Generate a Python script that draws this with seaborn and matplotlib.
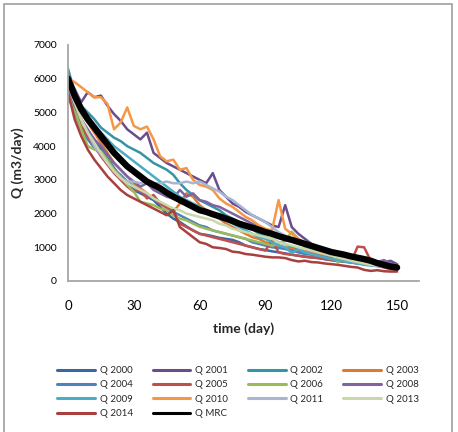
import matplotlib
matplotlib.use("Agg")
import matplotlib.pyplot as plt
import matplotlib.patches as mpatches
from matplotlib.lines import Line2D
import numpy as np
import pandas as pd
import seaborn as sns

# ---------------- data ----------------
days = list(range(0, 151, 3))

q2000 = [5700, 5200, 4800, 4450, 4200, 3900, 3650, 3350, 3100, 2900, 2700, 2600, 2500, 2400, 2200, 2000, 1850,
         1750, 1620, 1500, 1400, 1370, 1330, 1280, 1250, 1220, 1150, 1050, 1000, 950, 920, 880, 850, 820, 780,
         750, 720, 700, 680, 650, 620, 600, 570, 550, 520, 500, 480, 450, 430, 410, 390]
q2001 = [6100, 5700, 5300, 5600, 5450, 5500, 5200, 4950, 4750, 4500, 4350, 4200, 4400, 3800, 3650, 3500, 3400,
         3300, 3200, 3100, 3000, 2900, 3200, 2700, 2500, 2300, 2200, 2050, 1950, 1850, 1750, 1650, 1600, 2250,
         1600, 1400, 1250, 1100, 1000, 950, 900, 850, 800, 750, 700, 650, 620, 580, 550, 600, 500]
q2002 = [6300, 5600, 5200, 5000, 4800, 4550, 4400, 4250, 4150, 4000, 3900, 3800, 3650, 3500, 3400, 3300, 3150,
         2900, 2700, 2550, 2400, 2300, 2200, 2100, 1950, 1850, 1750, 1650, 1550, 1400, 1300, 1250, 1150, 1100,
         1000, 950, 900, 850, 800, 750, 700, 680, 650, 600, 560, 520, 500, 470, 450, 420, 400]
q2003 = [5900, 5400, 5000, 4700, 4400, 4100, 3800, 3500, 3300, 3100, 2900, 2750, 2600, 2450, 2300, 2150, 2050,
         2300, 2600, 2500, 2250, 2100, 1950, 1850, 1700, 1600, 1500, 1400, 1300, 1250, 1150, 1100, 1050, 1000,
         950, 900, 880, 850, 800, 780, 750, 700, 660, 620, 580, 550, 500, 480, 450, 420, 400]
q2004 = [5500, 5000, 4500, 4200, 3950, 3750, 3500, 3300, 3150, 2950, 2800, 2650, 2550, 2450, 2300, 2200, 2050,
         1950, 1850, 1750, 1650, 1600, 1500, 1450, 1400, 1350, 1300, 1250, 1150, 1100, 1050, 1000, 980, 950,
         900, 850, 800, 780, 750, 700, 650, 600, 580, 560, 540, 500, 480, 460, 440, 420, 400]
q2005 = [5800, 5100, 4600, 4300, 4000, 3700, 3450, 3200, 3000, 2800, 2650, 2700, 2450, 2550, 2300, 2200, 2100,
         1700, 1600, 1500, 1400, 1350, 1300, 1250, 1200, 1150, 1100, 1050, 1000, 950, 900, 1220, 850, 800,
         780, 750, 720, 700, 680, 650, 620, 600, 580, 560, 1020, 1000, 600, 450, 400, 350, 320]
q2006 = [5700, 5100, 4500, 4000, 3900, 3850, 3600, 3300, 3100, 2850, 2650, 2350, 2300, 2250, 2150, 2100, 1950,
         1850, 1800, 1700, 1610, 1550, 1500, 1450, 1400, 1350, 1300, 1250, 1200, 1150, 1100, 1050, 1100, 1200,
         1460, 1250, 1000, 950, 900, 880, 850, 550, 700, 650, 600, 550, 500, 480, 450, 420, 400]
q2008 = [5800, 5200, 4800, 4500, 4200, 4000, 3750, 3500, 3300, 3100, 2950, 2800, 2900, 2700, 2600, 2500, 2450,
         2700, 2500, 2600, 2400, 2350, 2250, 2200, 2100, 2000, 1900, 1800, 1700, 1600, 1500, 1400, 1350, 1300,
         1200, 1150, 1050, 1000, 950, 900, 850, 820, 800, 750, 700, 650, 600, 560, 620, 520, 480]
q2009 = [6000, 5400, 5000, 4800, 4600, 4400, 4200, 4000, 3850, 3700, 3550, 3400, 3250, 3100, 2950, 2800, 2650,
         2500, 2400, 2300, 2200, 2050, 1950, 1850, 1800, 1700, 1600, 1500, 1400, 1300, 1250, 1150, 1050, 1000,
         830, 950, 850, 800, 750, 700, 650, 620, 580, 550, 520, 480, 460, 440, 420, 400, 380]
q2010 = [6000, 5900, 5750, 5600, 5450, 5450, 5250, 4500, 4700, 5150, 4600, 4500, 4580, 4200, 3700, 3550, 3600,
         3300, 3350, 3000, 2850, 2800, 2700, 2450, 2300, 2200, 2050, 1900, 1800, 1650, 1550, 1500, 2400, 1550,
         1400, 1250, 1150, 1050, 950, 900, 800, 780, 700, 650, 600, 560, 520, 480, 450, 420, 400]
q2011 = [5800, 5300, 4800, 4400, 4000, 3750, 3500, 3250, 3050, 2950, 2950, 2900, 2950, 2900, 2900, 2950, 2900,
         2900, 2950, 2900, 2950, 2850, 2750, 2650, 2500, 2400, 2250, 2100, 1950, 1850, 1750, 1600, 1450, 1350,
         1250, 1150, 1050, 950, 900, 880, 850, 820, 780, 720, 680, 620, 560, 520, 480, 450, 420]
q2013 = [5900, 5300, 4800, 4400, 4100, 3800, 3500, 3250, 3050, 2900, 2800, 2700, 2600, 2450, 2350, 2250, 2150,
         2100, 2000, 1950, 1900, 1850, 1800, 1700, 1650, 1550, 1500, 1450, 1400, 1350, 1300, 1250, 1150, 1100,
         1050, 1000, 950, 900, 850, 800, 750, 700, 650, 600, 560, 520, 480, 450, 430, 410, 390]
q2014 = [5600, 4800, 4300, 3900, 3600, 3350, 3100, 2900, 2700, 2550, 2450, 2350, 2250, 2150, 2050, 1950, 2100,
         1600, 1450, 1300, 1150, 1100, 1000, 980, 950, 870, 850, 800, 780, 750, 720, 700, 700, 680, 620, 580,
         600, 560, 550, 520, 500, 480, 450, 420, 400, 330, 300, 320, 290, 280, 280]
qmrc = [6000, 5500, 5100, 4800, 4550, 4300, 4050, 3800, 3600, 3400, 3250, 3100, 2950, 2850, 2750, 2620, 2500,
        2400, 2300, 2200, 2100, 2050, 1980, 1920, 1850, 1780, 1700, 1640, 1580, 1520, 1450, 1400, 1330, 1270,
        1220, 1160, 1100, 1040, 980, 920, 860, 820, 780, 730, 690, 650, 600, 530, 480, 430, 400]

series_names = ["Q 2000", "Q 2001", "Q 2002", "Q 2003", "Q 2004", "Q 2005", "Q 2006",
                "Q 2008", "Q 2009", "Q 2010", "Q 2011", "Q 2013", "Q 2014"]
series_values = [q2000, q2001, q2002, q2003, q2004, q2005, q2006,
                 q2008, q2009, q2010, q2011, q2013, q2014]
colors = ["#3C66A0", "#6A4D8E", "#3594A8", "#DB7A32", "#4F81BD", "#C0504D", "#9BBB59",
          "#8064A2", "#4BACC6", "#F79646", "#A8B6D4", "#C9D7AB", "#A8403D"]

x_ticks = [0, 30, 60, 90, 120, 150]
y_ticks = [0, 1000, 2000, 3000, 4000, 5000, 6000, 7000]

# ---------------- figure ----------------
sns.set_theme(style="white")
plt.rcParams['font.family'] = ['Lato', 'DejaVu Sans']

fig = plt.figure(figsize=(4.58, 4.32), dpi=100)
ax = fig.add_axes([68 / 458, 1 - 281 / 432, (419 - 68) / 458, (281 - 45) / 432])

rows = []
for name, vals in zip(series_names, series_values):
    for d, v in zip(days, vals):
        rows.append({"day": d, "Q": v, "series": name})
df = pd.DataFrame(rows)
df_mrc = pd.DataFrame({"day": days, "Q": qmrc})

sns.lineplot(data=df, x="day", y="Q", hue="series", hue_order=series_names,
             palette=dict(zip(series_names, colors)), linewidth=1.8, ax=ax, legend=False)
sns.lineplot(data=df_mrc, x="day", y="Q", color="black", linewidth=4.6, ax=ax, legend=False)

ax.set_xlim(0, 160)
ax.set_ylim(0, 7000)
ax.set_xticks(x_ticks)
ax.set_yticks(y_ticks)
ax.set_xticklabels([str(t) for t in x_ticks], fontsize=9.5)
ax.set_yticklabels([str(t) for t in y_ticks], fontsize=7.5)
ax.tick_params(axis="x", length=0, pad=14, colors="black")
ax.tick_params(axis="y", length=0, pad=8, colors="black")
for s in ["top", "right"]:
    ax.spines[s].set_visible(False)
for s in ["left", "bottom"]:
    ax.spines[s].set_color("#A6A6A6")
    ax.spines[s].set_linewidth(1.3)
ax.grid(False)

ax.set_xlabel("")
ax.set_ylabel("")
fig.text(243.5 / 458, 1 - 329 / 432, "time (day)", ha="center", va="center",
         fontsize=10, fontweight="bold")
fig.text(18 / 458, 1 - 163 / 432, "Q (m3/day)", ha="center", va="center",
         rotation=90, fontsize=10, fontweight="bold")

# legend, laid out row-wise in 4 columns like the reference
handles = {n: Line2D([], [], color=c, lw=2.2) for n, c in zip(series_names, colors)}
handles["Q MRC"] = Line2D([], [], color="black", lw=2.2)
order = ["Q 2000", "Q 2004", "Q 2009", "Q 2014",
         "Q 2001", "Q 2005", "Q 2010", "Q MRC",
         "Q 2002", "Q 2006", "Q 2011",
         "Q 2003", "Q 2008", "Q 2013"]
fig.legend([handles[n] for n in order], order, ncol=4, frameon=False,
           loc="center", bbox_to_anchor=(238 / 458, 1 - 392 / 432),
           fontsize=7, handlelength=3.9, handletextpad=0.5, columnspacing=2.0,
           labelspacing=0.55)

# outer chart frame
fig.patches.append(mpatches.Rectangle((4 / 458, -0.05), (452 - 4) / 458, 1.05 - 4 / 432,
                                      transform=fig.transFigure, fill=False,
                                      edgecolor="#A0A0A0", linewidth=1.2))

fig.savefig("out.png", dpi=100)
